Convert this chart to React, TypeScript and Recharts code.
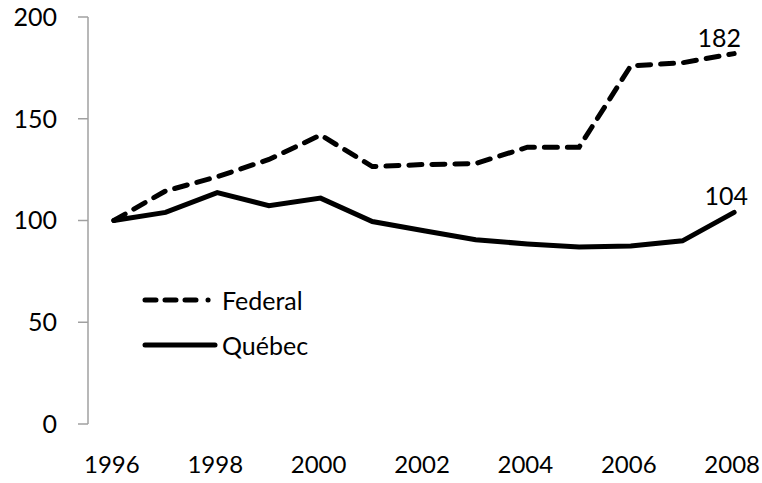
import React from 'react';
import { LineChart, Line, XAxis, YAxis, Legend, LabelList } from 'recharts';

// values (index, 1996 = 100)
const years = [1996, 1997, 1998, 1999, 2000, 2001, 2002, 2003, 2004, 2005, 2006, 2007, 2008];
const federal = [100, 114.5, 121.5, 130, 142, 126.5, 127.5, 128, 136, 136, 176, 177.5, 182];
const quebec = [100, 104, 113.7, 107.3, 111, 99.5, 95, 90.5, 88.5, 87, 87.5, 90, 104];
const yTicks = [0, 50, 100, 150, 200];
const yearLabels = [1996, 1998, 2000, 2002, 2004, 2006, 2008];
const yearBounds = [1995.5, 1996.5, 1997.5, 1998.5, 1999.5, 2000.5, 2001.5, 2002.5, 2003.5, 2004.5, 2005.5, 2006.5, 2007.5, 2008.5];

const data = years.map((year, i) => ({ year, federal: federal[i], quebec: quebec[i] }));

const FONT = 'Lato, "Open Sans", sans-serif';
const FS = 25;
const AXIS = '#a0a0a0';
const LAST = years.length - 1;

const series = [
  { key: 'federal', name: 'Federal', legendDash: '11 9 11 9 11 12 0.1 30' },
  { key: 'quebec', name: 'Québec', legendDash: undefined },
];

const endLabel = (dx: number) => (p: any) =>
  p.index === LAST ? (
    <text x={p.x + dx} y={p.y - 7} textAnchor="middle" fontSize={FS} fontFamily={FONT} fill="#000">
      {p.value}
    </text>
  ) : null;

const renderLegend = () => (
  <div style={{ fontFamily: FONT, fontSize: FS, color: '#000' }}>
    {series.map((s) => (
      <div key={s.key} style={{ display: 'flex', alignItems: 'center', height: 45 }}>
        <svg width={80} height={12} style={{ display: 'block' }}>
          <line x1={4} x2={74} y1={6} y2={6} stroke="#000" strokeWidth={5}
            strokeLinecap="round" strokeDasharray={s.legendDash} />
        </svg>
        <span style={{ marginLeft: 1, lineHeight: '26px' }}>{s.name}</span>
      </div>
    ))}
  </div>
);

export default function App() {
  return (
    <div style={{ position: 'absolute', left: 0, top: 0, background: '#fff' }}>
      <LineChart width={762} height={483} data={data} margin={{ top: 17, right: 2, left: 0, bottom: 0 }}>
        <XAxis xAxisId="grid" dataKey="year" type="number" domain={[1995.5, 2008.5]}
          ticks={yearBounds} height={0} tick={false} tickSize={10}
          axisLine={{ stroke: AXIS, strokeWidth: 1.5 }} tickLine={{ stroke: AXIS, strokeWidth: 1.5 }} />
        <XAxis xAxisId="labels" dataKey="year" type="number" domain={[1995.5, 2008.5]}
          ticks={yearLabels} height={59} axisLine={false} tickLine={false} tickSize={0} tickMargin={32}
          interval={0} tick={{ fontSize: 24, fontFamily: FONT, fill: '#000', dx: -2 }} />
        <YAxis domain={[0, 200]} ticks={yTicks} width={88} tickSize={10} tickMargin={21}
          axisLine={{ stroke: AXIS, strokeWidth: 1.5 }} tickLine={{ stroke: AXIS, strokeWidth: 1.5 }}
          tick={{ fontSize: FS, fontFamily: FONT, fill: '#000' }} />
        <Legend layout="vertical" align="center" verticalAlign="middle" content={renderLegend}
          wrapperStyle={{ left: 141, top: 277, width: 'auto' }} />
        <Line xAxisId="grid" dataKey="federal" name="Federal" stroke="#000" strokeWidth={5}
          strokeDasharray="13 10" strokeLinecap="round" dot={false} isAnimationActive={false}>
          <LabelList dataKey="federal" content={endLabel(-15)} />
        </Line>
        <Line xAxisId="grid" dataKey="quebec" name="Québec" stroke="#000" strokeWidth={5}
          strokeLinecap="round" dot={false} isAnimationActive={false}>
          <LabelList dataKey="quebec" content={endLabel(-8)} />
        </Line>
      </LineChart>
    </div>
  );
}
